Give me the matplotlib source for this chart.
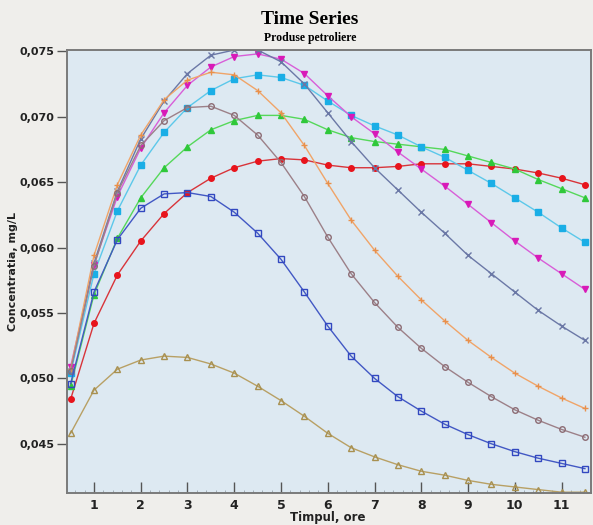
import matplotlib
matplotlib.use("Agg")
import matplotlib.pyplot as plt
from matplotlib.ticker import FuncFormatter, MultipleLocator

# time, hours
hours = [0.5, 1.0, 1.5, 2.0, 2.5, 3.0, 3.5, 4.0, 4.5, 5.0, 5.5, 6.0,
         6.5, 7.0, 7.5, 8.0, 8.5, 9.0, 9.5, 10.0, 10.5, 11.0, 11.5]

red_circles = [0.0484, 0.0542, 0.0579, 0.0605, 0.0626, 0.0642, 0.0653, 0.0661,
               0.0666, 0.0668, 0.0667, 0.0663, 0.0661, 0.0661, 0.0662, 0.0664,
               0.0664, 0.0664, 0.0662, 0.0660, 0.0657, 0.0653, 0.0648]
green_triangles = [0.0494, 0.0564, 0.0607, 0.0638, 0.0661, 0.0677, 0.0690, 0.0697,
                   0.0701, 0.0701, 0.0698, 0.0690, 0.0684, 0.0681, 0.0679, 0.0677,
                   0.0675, 0.0670, 0.0665, 0.0660, 0.0652, 0.0645, 0.0638]
cyan_squares = [0.0504, 0.0580, 0.0628, 0.0663, 0.0688, 0.0707, 0.0720, 0.0729,
                0.0732, 0.0730, 0.0724, 0.0712, 0.0701, 0.0693, 0.0686, 0.0677,
                0.0669, 0.0659, 0.0649, 0.0638, 0.0627, 0.0615, 0.0604]
magenta_tri_down = [0.0509, 0.0587, 0.0639, 0.0676, 0.0703, 0.0724, 0.0738, 0.0746,
                    0.0748, 0.0744, 0.0733, 0.0716, 0.0700, 0.0687, 0.0673, 0.0660,
                    0.0647, 0.0633, 0.0619, 0.0605, 0.0592, 0.0580, 0.0568]
slate_crosses = [0.0506, 0.0588, 0.0643, 0.0683, 0.0712, 0.0733, 0.0747, 0.0751,
                 0.0751, 0.0742, 0.0725, 0.0703, 0.0681, 0.0661, 0.0644, 0.0627,
                 0.0611, 0.0594, 0.0580, 0.0566, 0.0552, 0.0540, 0.0529]
orange_plus = [0.0507, 0.0594, 0.0648, 0.0686, 0.0713, 0.0728, 0.0734, 0.0732,
               0.0720, 0.0703, 0.0678, 0.0649, 0.0621, 0.0598, 0.0578, 0.0560,
               0.0544, 0.0529, 0.0516, 0.0504, 0.0494, 0.0485, 0.0477]
brown_circles = [0.0506, 0.0586, 0.0642, 0.0678, 0.0697, 0.0707, 0.0708, 0.0701,
                 0.0686, 0.0665, 0.0639, 0.0608, 0.0580, 0.0558, 0.0539, 0.0523,
                 0.0509, 0.0497, 0.0486, 0.0476, 0.0468, 0.0461, 0.0455]
blue_squares = [0.0496, 0.0566, 0.0606, 0.0630, 0.0641, 0.0642, 0.0639, 0.0627,
                0.0611, 0.0591, 0.0566, 0.0540, 0.0517, 0.0500, 0.0486, 0.0475,
                0.0465, 0.0457, 0.0450, 0.0444, 0.0439, 0.0435, 0.0431]
tan_triangles = [0.0458, 0.0491, 0.0507, 0.0514, 0.0517, 0.0516, 0.0511, 0.0504,
                 0.0494, 0.0483, 0.0471, 0.0458, 0.0447, 0.0440, 0.0434, 0.0429,
                 0.0426, 0.0422, 0.0419, 0.0417, 0.0415, 0.0413, 0.0413]

x_ticks = [1, 2, 3, 4, 5, 6, 7, 8, 9, 10, 11]
y_ticks = [0.045, 0.050, 0.055, 0.060, 0.065, 0.070, 0.075]

# (values, line colour, marker, marker face, marker edge, marker size)
series = [
    (red_circles, "#d8343a", "o", "#e8141c", "#e8141c", 4),
    (green_triangles, "#55d85a", "^", "#2fc83a", "#2fc83a", 4.5),
    (cyan_squares, "#5cc8ea", "s", "#1aaee6", "#1aaee6", 4),
    (magenta_tri_down, "#d85ed8", "v", "#d81ab8", "#d81ab8", 5),
    (slate_crosses, "#6b78a6", "x", "none", "#6b78a6", 4.5),
    (orange_plus, "#f0a468", "+", "none", "#e8904c", 5),
    (brown_circles, "#9c8088", "o", "none", "#8c6c74", 4),
    (blue_squares, "#4258c4", "s", "none", "#3248c0", 4.5),
    (tan_triangles, "#b8a064", "^", "none", "#a89050", 4.5),
]

fig = plt.figure(figsize=(5.93, 5.25), dpi=100, facecolor="#efeeeb")
ax = fig.add_axes([0.113, 0.061, 0.8836, 0.8438], facecolor="#dde9f2")

for vals, lc, mk, mfc, mec, ms in series:
    ax.plot(hours, vals, color=lc, linewidth=1.0, marker=mk, markersize=ms,
            markerfacecolor=mfc, markeredgecolor=mec, markeredgewidth=1.0)

ax.set_xlim(0.423, 11.63)
ax.set_ylim(0.04124, 0.0751)
ax.set_xticks(x_ticks)
ax.set_yticks(y_ticks)
ax.xaxis.set_minor_locator(MultipleLocator(0.2))
ax.yaxis.set_major_formatter(FuncFormatter(lambda v, p: f"{v:.3f}".replace(".", ",")))

ax.tick_params(axis="x", direction="in", length=8, width=1, color="#555555",
               labelsize=9, pad=4)
ax.tick_params(axis="x", which="minor", direction="in", length=2.5, width=0.6,
               color="#9aa4ad")
ax.tick_params(axis="y", direction="out", length=7, width=1, color="#555555",
               labelsize=8, pad=2)
for lab in ax.get_xticklabels() + ax.get_yticklabels():
    lab.set_fontweight("bold")
    lab.set_color("#222222")

for sp in ax.spines.values():
    sp.set_color("#7a7a7a")
    sp.set_linewidth(1.4)

fig.text(0.523, 0.962, "Time Series", ha="center", va="center",
         family="Liberation Serif", fontweight="bold", fontsize=14)
fig.text(0.523, 0.927, "Produse petroliere", ha="center", va="center",
         family="Liberation Serif", fontweight="bold", fontsize=8.5)
fig.text(0.022, 0.483, "Concentratia, mg/L", ha="center", va="center",
         rotation=90, fontweight="bold", fontsize=8, color="#222222")
fig.text(0.553, 0.002, "Timpul, ore", ha="center", va="bottom",
         fontweight="bold", fontsize=8.5, color="#222222")

fig.savefig("out.png", dpi=100, facecolor=fig.get_facecolor())
